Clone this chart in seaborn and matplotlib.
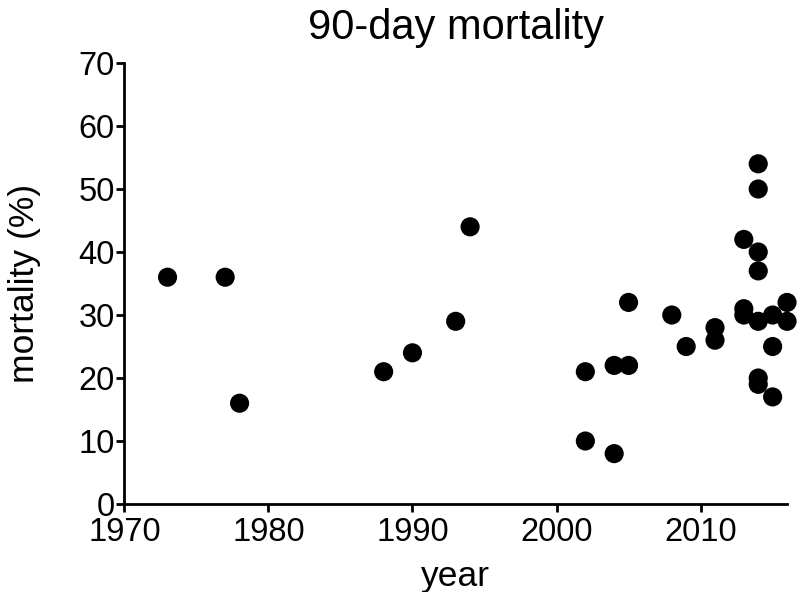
import pandas as pd
import numpy as np
import matplotlib
matplotlib.use('Agg')
import matplotlib.pyplot as plt
import seaborn as sns

# values
years = [1973, 1977, 1978, 1988, 1990, 1993, 1994,
         2002, 2002, 2004, 2004, 2005, 2005, 2008, 2009,
         2011, 2011, 2013, 2013, 2013,
         2014, 2014, 2014, 2014, 2014, 2014, 2014,
         2015, 2015, 2015, 2016, 2016]
mortality = [36, 36, 16, 21, 24, 29, 44,
             21, 10, 22, 8, 22, 32, 30, 25,
             28, 26, 42, 31, 30,
             54, 50, 40, 37, 29, 20, 19,
             30, 25, 17, 32, 29]
xticks = [1970, 1980, 1990, 2000, 2010]
yticks = [0, 10, 20, 30, 40, 50, 60, 70]

df = pd.DataFrame({'year': years, 'mortality': mortality})

sns.set_style('ticks')
plt.rcParams['font.family'] = ['Liberation Sans', 'DejaVu Sans']
plt.rcParams['text.color'] = 'black'
plt.rcParams['axes.labelcolor'] = 'black'

fig = plt.figure(figsize=(7.97, 5.92), dpi=100)
ax = fig.add_axes([0.156, 0.1486, 0.8315, 0.745])
sns.scatterplot(data=df, x='year', y='mortality', s=190, color='black',
                edgecolor='none', ax=ax, clip_on=False, zorder=3)

ax.set_xlim(1970, 2016)
ax.set_ylim(0, 70)
ax.set_xticks(xticks)
ax.set_yticks(yticks)
ax.tick_params(labelsize=23.5, width=2, length=6, colors='black')
ax.tick_params(axis='y', pad=1)
ax.tick_params(axis='x', pad=3)
for side in ['left', 'bottom']:
    ax.spines[side].set_linewidth(2)
    ax.spines[side].set_color('black')
sns.despine(ax=ax)

ax.set_title('90-day mortality', fontsize=30, pad=17)
ax.set_xlabel('year', fontsize=25.5, labelpad=9)
ax.set_ylabel('mortality (%)', fontsize=25.5, labelpad=27)

fig.savefig('out.png', dpi=100)
